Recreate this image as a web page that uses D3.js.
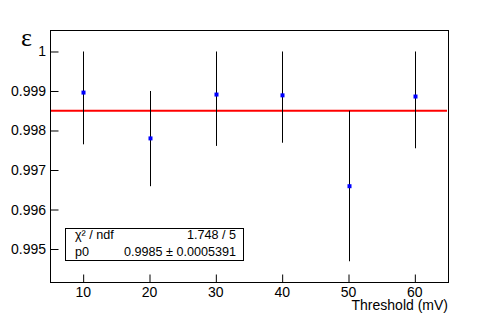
<!DOCTYPE html>
<html>
<head>
<meta charset="utf-8">
<script src="https://cdn.jsdelivr.net/npm/d3@7"></script>
<style>
  body { margin: 0; background: #fff; }
  text { font-family: "Liberation Sans", Arial, sans-serif; }
</style>
</head>
<body>
<script>
// threshold scan: efficiency per threshold, asymmetric errors
var thresholds = [10, 20, 30, 40, 50, 60];
var efficiency = [0.99896, 0.99780, 0.99891, 0.99889, 0.99659, 0.99886];
var errLow     = [0.00131, 0.00121, 0.00130, 0.00120, 0.00190, 0.00131];
var errHigh    = [0.00104, 0.00120, 0.00109, 0.00111, 0.00191, 0.00114];
var fitP0 = 0.9985;
var yTicks = [0.995, 0.996, 0.997, 0.998, 0.999, 1];
var xTicks = [10, 20, 30, 40, 50, 60];
var statsRows = [["χ² / ndf", "1.748 / 5"], ["p0", "0.9985 ± 0.0005391"]];

var width = 498, height = 314;
// frame edges (note: "top" is taken by window.top)
var frameL = 50, frameR = 448, frameT = 30, frameB = 282;

var svg = d3.select("body").append("svg")
  .attr("width", width)
  .attr("height", height);

var x = d3.scaleLinear().domain([5, 65]).range([frameL, frameR]);
var y = d3.scaleLinear().domain([0.994165, 1.000544]).range([frameB, frameT]);

// frame
svg.append("rect")
  .attr("x", frameL + 0.5).attr("y", frameT + 0.5)
  .attr("width", frameR - frameL).attr("height", frameB - frameT)
  .attr("fill", "none").attr("stroke", "#000");

// y axis, ticks pointing into the frame
var yMinor = d3.range(0.9942, 1.00055, 0.0002).filter(function(v) {
  return Math.abs(Math.round(v * 1000) - v * 1000) > 1e-6;
});
var gy = svg.append("g").attr("transform", "translate(" + (frameL + 0.5) + ",0)");
gy.call(d3.axisRight(y).tickValues(yMinor).tickSize(4).tickFormat(""));
gy.call(d3.axisRight(y).tickValues(yTicks).tickSize(8).tickFormat(""));
gy.select(".domain").remove();
gy.selectAll("line").attr("stroke", "#000");
svg.selectAll(".ylab")
  .data(yTicks)
  .enter()
  .append("text")
  .attr("x", frameL - 4)
  .attr("y", function(d) { return y(d) + 5; })
  .attr("text-anchor", "end")
  .attr("font-size", 14)
  .text(function(d) { return d === 1 ? "1" : d3.format(".3f")(d); });

// x axis, ticks pointing up
var xMinor = d3.range(6, 65, 2).filter(function(v) { return v % 10 !== 0; });
var gx = svg.append("g").attr("transform", "translate(0," + (frameB + 0.5) + ")");
gx.call(d3.axisTop(x).tickValues(xMinor).tickSize(4).tickFormat(""));
gx.call(d3.axisTop(x).tickValues(xTicks).tickSize(8).tickFormat(""));
gx.select(".domain").remove();
gx.selectAll("line").attr("stroke", "#000");
svg.selectAll(".xlab")
  .data(xTicks)
  .enter()
  .append("text")
  .attr("x", function(d) { return x(d); })
  .attr("y", 297)
  .attr("text-anchor", "middle")
  .attr("font-size", 14)
  .text(function(d) { return d; });

svg.append("text")
  .attr("x", frameR)
  .attr("y", 310)
  .attr("text-anchor", "end")
  .attr("font-size", 14)
  .text("Threshold (mV)");

svg.append("text")
  .attr("x", 21)
  .attr("y", 46)
  .style("font-family", "'Liberation Serif', 'DejaVu Serif', serif")
  .attr("font-size", 26)
  .text("ε");

// fit line
svg.append("line")
  .attr("x1", x(5) + 1).attr("x2", x(65) - 1)
  .attr("y1", y(fitP0)).attr("y2", y(fitP0))
  .attr("stroke", "#ff0000")
  .attr("stroke-width", 2);

// error bars
svg.selectAll(".err")
  .data(thresholds)
  .enter()
  .append("line")
  .attr("x1", function(d) { return Math.round(x(d)) + 0.5; })
  .attr("x2", function(d) { return Math.round(x(d)) + 0.5; })
  .attr("y1", function(d, i) { return y(efficiency[i] + errHigh[i]); })
  .attr("y2", function(d, i) { return y(efficiency[i] - errLow[i]); })
  .attr("stroke", "#000")
  .attr("stroke-width", 1);

// markers
svg.selectAll(".pt")
  .data(thresholds)
  .enter()
  .append("rect")
  .attr("x", function(d) { return Math.round(x(d)) - 1.5; })
  .attr("y", function(d, i) { return y(efficiency[i]) - 2; })
  .attr("width", 4)
  .attr("height", 4)
  .attr("fill", "#0000ff");

// stats box
svg.append("rect")
  .attr("x", 65.5).attr("y", 228.5)
  .attr("width", 178).attr("height", 32)
  .attr("fill", "#fff").attr("stroke", "#000");
svg.selectAll(".stk")
  .data(statsRows)
  .enter()
  .append("text")
  .attr("x", 75)
  .attr("y", function(d, i) { return 239 + i * 17; })
  .attr("font-size", 12.6)
  .text(function(d) { return d[0]; });
svg.selectAll(".stv")
  .data(statsRows)
  .enter()
  .append("text")
  .attr("x", 236)
  .attr("y", function(d, i) { return 239 + i * 17; })
  .attr("text-anchor", "end")
  .attr("font-size", 12.6)
  .text(function(d) { return d[1]; });
</script>
</body>
</html>
